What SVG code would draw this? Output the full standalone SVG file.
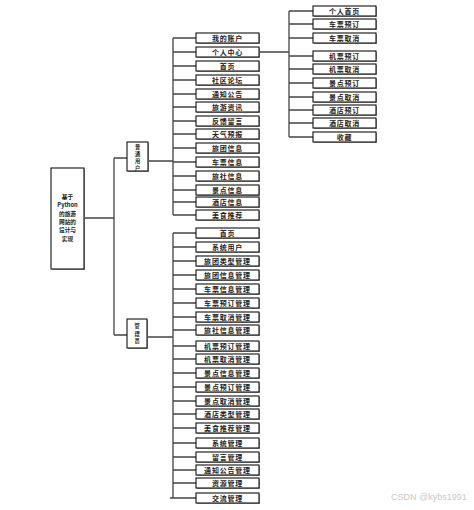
<svg xmlns="http://www.w3.org/2000/svg" width="474" height="510" viewBox="0 0 474 510">
<style>
.b{fill:#fff;stroke:#111;stroke-width:1.1}
.s{fill:#9a9a9a}
.t{font-family:"Noto Sans CJK SC","Liberation Serif",serif;font-size:7px;font-weight:bold;fill:#222;text-anchor:middle;letter-spacing:0.8px}
.r{font-family:"Noto Sans CJK SC","Liberation Serif",serif;font-size:5.7px;font-weight:bold;fill:#222;text-anchor:middle}
.v{font-family:"Noto Sans CJK SC","Liberation Serif",serif;font-size:5.2px;font-weight:bold;fill:#222;text-anchor:middle}
.c{stroke:#444;stroke-width:1.3;fill:none}
.w{font-family:"Liberation Sans",Arial,sans-serif;font-size:9px;fill:#c8c8c8}
</style>
<rect width="474" height="510" fill="#fff"/>
<g id="connectors">
<path class="c" d="M84,218H114M114,158V335M114,158H127M114,335H127"/>
<path class="c" d="M149,161H173M173,38V215"/>
<path class="c" d="M173,38H196M173,52H196M173,66H196M173,80H196M173,94H196M173,107H196M173,121H196M173,134H196M173,148H196M173,162H196M173,176H196M173,190H196M173,202H196M173,215H196"/>
<path class="c" d="M260,52H289M289,11V137M289,11H313M289,24H313M289,38H313M289,56H313M289,69H313M289,83H313M289,97H313M289,110H313M289,123H313M289,137H313"/>
<path class="c" d="M147,337H173M173,233V498"/>
<path class="c" d="M173,233H196M173,247H196M173,261H196M173,275H196M173,289H196M173,303H196M173,317H196M173,330H196M173,346H196M173,359H196M173,373H196M173,387H196M173,401H196M173,414H196M173,428H196M173,443H196M173,457H196M173,470H196M173,483H196M170,498H196"/>
</g>
<g id="root">
<rect class="s" x="52" y="169" width="33" height="101"/>
<rect class="b" x="51" y="168" width="33" height="101"/>
<text class="r" x="67.5" y="199">基于</text>
<text class="r" x="67.5" y="207.3" font-family="Liberation Serif">Python</text>
<text class="r" x="67.5" y="215.6">的旅游</text>
<text class="r" x="67.5" y="223.9">网站的</text>
<text class="r" x="67.5" y="232.2">设计与</text>
<text class="r" x="67.5" y="240.5">实现</text>
</g>
<g id="user">
<rect class="s" x="128" y="143" width="21" height="29"/>
<rect class="b" x="127" y="142" width="21" height="29"/>
<text class="v" x="137.5" y="148.6">普</text>
<text class="v" x="137.5" y="155.9">通</text>
<text class="v" x="137.5" y="163.2">用</text>
<text class="v" x="137.5" y="170.5" dy="-0.5">户</text>
</g>
<g id="admin">
<rect class="s" x="128" y="320" width="20" height="29"/>
<rect class="b" x="127" y="319" width="20" height="29"/>
<text class="v" x="137" y="328">管</text>
<text class="v" x="137" y="335.5">理</text>
<text class="v" x="137" y="343">员</text>
</g>
<g id="user-items">
<g id="u1"><rect class="s" x="197" y="34" width="63" height="10"/><rect class="b" x="196" y="33" width="63" height="10"/><text class="t" x="227.5" y="40.5">我的账户</text></g>
<g id="u2"><rect class="s" x="197" y="48" width="63" height="10"/><rect class="b" x="196" y="47" width="63" height="10"/><text class="t" x="227.5" y="54.5">个人中心</text></g>
<g id="u3"><rect class="s" x="197" y="62" width="63" height="10"/><rect class="b" x="196" y="61" width="63" height="10"/><text class="t" x="227.5" y="68.5">首页</text></g>
<g id="u4"><rect class="s" x="197" y="76" width="63" height="10"/><rect class="b" x="196" y="75" width="63" height="10"/><text class="t" x="227.5" y="82.5">社区论坛</text></g>
<g id="u5"><rect class="s" x="197" y="90" width="63" height="10"/><rect class="b" x="196" y="89" width="63" height="10"/><text class="t" x="227.5" y="96.5">通知公告</text></g>
<g id="u6"><rect class="s" x="197" y="103" width="63" height="10"/><rect class="b" x="196" y="102" width="63" height="10"/><text class="t" x="227.5" y="109.5">旅游资讯</text></g>
<g id="u7"><rect class="s" x="197" y="117" width="63" height="10"/><rect class="b" x="196" y="116" width="63" height="10"/><text class="t" x="227.5" y="123.5">反馈留言</text></g>
<g id="u8"><rect class="s" x="197" y="130" width="63" height="10"/><rect class="b" x="196" y="129" width="63" height="10"/><text class="t" x="227.5" y="136.5">天气预报</text></g>
<g id="u9"><rect class="s" x="197" y="144" width="63" height="10"/><rect class="b" x="196" y="143" width="63" height="10"/><text class="t" x="227.5" y="150.5">旅团信息</text></g>
<g id="u10"><rect class="s" x="197" y="158" width="63" height="10"/><rect class="b" x="196" y="157" width="63" height="10"/><text class="t" x="227.5" y="164.5">车票信息</text></g>
<g id="u11"><rect class="s" x="197" y="172" width="63" height="10"/><rect class="b" x="196" y="171" width="63" height="10"/><text class="t" x="227.5" y="178.5">旅社信息</text></g>
<g id="u12"><rect class="s" x="197" y="186" width="63" height="10"/><rect class="b" x="196" y="185" width="63" height="10"/><text class="t" x="227.5" y="192.5">景点信息</text></g>
<g id="u13"><rect class="s" x="197" y="198" width="63" height="10"/><rect class="b" x="196" y="197" width="63" height="10"/><text class="t" x="227.5" y="204.5">酒店信息</text></g>
<g id="u14"><rect class="s" x="197" y="211" width="63" height="10"/><rect class="b" x="196" y="210" width="63" height="10"/><text class="t" x="227.5" y="217.5">美食推荐</text></g>
</g>
<g id="center-items">
<g id="p1"><rect class="s" x="314" y="7" width="63" height="10"/><rect class="b" x="313" y="6" width="63" height="10"/><text class="t" x="344.5" y="13.5">个人首页</text></g>
<g id="p2"><rect class="s" x="314" y="20" width="63" height="10"/><rect class="b" x="313" y="19" width="63" height="10"/><text class="t" x="344.5" y="26.5">车票预订</text></g>
<g id="p3"><rect class="s" x="314" y="34" width="63" height="10"/><rect class="b" x="313" y="33" width="63" height="10"/><text class="t" x="344.5" y="40.5">车票取消</text></g>
<g id="p4"><rect class="s" x="314" y="52" width="63" height="10"/><rect class="b" x="313" y="51" width="63" height="10"/><text class="t" x="344.5" y="58.5">机票预订</text></g>
<g id="p5"><rect class="s" x="314" y="65" width="63" height="10"/><rect class="b" x="313" y="64" width="63" height="10"/><text class="t" x="344.5" y="71.5">机票取消</text></g>
<g id="p6"><rect class="s" x="314" y="79" width="63" height="10"/><rect class="b" x="313" y="78" width="63" height="10"/><text class="t" x="344.5" y="85.5">景点预订</text></g>
<g id="p7"><rect class="s" x="314" y="93" width="63" height="10"/><rect class="b" x="313" y="92" width="63" height="10"/><text class="t" x="344.5" y="99.5">景点取消</text></g>
<g id="p8"><rect class="s" x="314" y="106" width="63" height="10"/><rect class="b" x="313" y="105" width="63" height="10"/><text class="t" x="344.5" y="112.5">酒店预订</text></g>
<g id="p9"><rect class="s" x="314" y="119" width="63" height="10"/><rect class="b" x="313" y="118" width="63" height="10"/><text class="t" x="344.5" y="125.5">酒店取消</text></g>
<g id="p10"><rect class="s" x="314" y="133" width="63" height="10"/><rect class="b" x="313" y="132" width="63" height="10"/><text class="t" x="344.5" y="139.5">收藏</text></g>
</g>
<g id="admin-items">
<g id="a1"><rect class="s" x="197" y="229" width="63" height="10"/><rect class="b" x="196" y="228" width="63" height="10"/><text class="t" x="227.5" y="235.5">首页</text></g>
<g id="a2"><rect class="s" x="197" y="243" width="63" height="10"/><rect class="b" x="196" y="242" width="63" height="10"/><text class="t" x="227.5" y="249.5">系统用户</text></g>
<g id="a3"><rect class="s" x="197" y="257" width="63" height="10"/><rect class="b" x="196" y="256" width="63" height="10"/><text class="t" x="227.5" y="263.5">旅团类型管理</text></g>
<g id="a4"><rect class="s" x="197" y="271" width="63" height="10"/><rect class="b" x="196" y="270" width="63" height="10"/><text class="t" x="227.5" y="277.5">旅团信息管理</text></g>
<g id="a5"><rect class="s" x="197" y="285" width="63" height="10"/><rect class="b" x="196" y="284" width="63" height="10"/><text class="t" x="227.5" y="291.5">车票信息管理</text></g>
<g id="a6"><rect class="s" x="197" y="299" width="63" height="10"/><rect class="b" x="196" y="298" width="63" height="10"/><text class="t" x="227.5" y="305.5">车票预订管理</text></g>
<g id="a7"><rect class="s" x="197" y="313" width="63" height="10"/><rect class="b" x="196" y="312" width="63" height="10"/><text class="t" x="227.5" y="319.5">车票取消管理</text></g>
<g id="a8"><rect class="s" x="197" y="326" width="63" height="10"/><rect class="b" x="196" y="325" width="63" height="10"/><text class="t" x="227.5" y="332.5">旅社信息管理</text></g>
<g id="a9"><rect class="s" x="197" y="342" width="63" height="10"/><rect class="b" x="196" y="341" width="63" height="10"/><text class="t" x="227.5" y="348.5">机票预订管理</text></g>
<g id="a10"><rect class="s" x="197" y="355" width="63" height="10"/><rect class="b" x="196" y="354" width="63" height="10"/><text class="t" x="227.5" y="361.5">机票取消管理</text></g>
<g id="a11"><rect class="s" x="197" y="369" width="63" height="10"/><rect class="b" x="196" y="368" width="63" height="10"/><text class="t" x="227.5" y="375.5">景点信息管理</text></g>
<g id="a12"><rect class="s" x="197" y="383" width="63" height="10"/><rect class="b" x="196" y="382" width="63" height="10"/><text class="t" x="227.5" y="389.5">景点预订管理</text></g>
<g id="a13"><rect class="s" x="197" y="397" width="63" height="10"/><rect class="b" x="196" y="396" width="63" height="10"/><text class="t" x="227.5" y="403.5">景点取消管理</text></g>
<g id="a14"><rect class="s" x="197" y="410" width="63" height="10"/><rect class="b" x="196" y="409" width="63" height="10"/><text class="t" x="227.5" y="416.5">酒店类型管理</text></g>
<g id="a15"><rect class="s" x="197" y="424" width="63" height="10"/><rect class="b" x="196" y="423" width="63" height="10"/><text class="t" x="227.5" y="430.5">美食推荐管理</text></g>
<g id="a16"><rect class="s" x="197" y="439" width="63" height="10"/><rect class="b" x="196" y="438" width="63" height="10"/><text class="t" x="227.5" y="445.5">系统管理</text></g>
<g id="a17"><rect class="s" x="197" y="453" width="63" height="10"/><rect class="b" x="196" y="452" width="63" height="10"/><text class="t" x="227.5" y="459.5">留言管理</text></g>
<g id="a18"><rect class="s" x="197" y="466" width="63" height="10"/><rect class="b" x="196" y="465" width="63" height="10"/><text class="t" x="227.5" y="472.5">通知公告管理</text></g>
<g id="a19"><rect class="s" x="197" y="479" width="63" height="10"/><rect class="b" x="196" y="478" width="63" height="10"/><text class="t" x="227.5" y="485.5">资源管理</text></g>
<g id="a20"><rect class="s" x="197" y="494" width="63" height="10"/><rect class="b" x="196" y="493" width="63" height="10"/><text class="t" x="227.5" y="500.5">交流管理</text></g>
</g>
<text class="w" x="391" y="500">CSDN @kybs1991</text>
</svg>
